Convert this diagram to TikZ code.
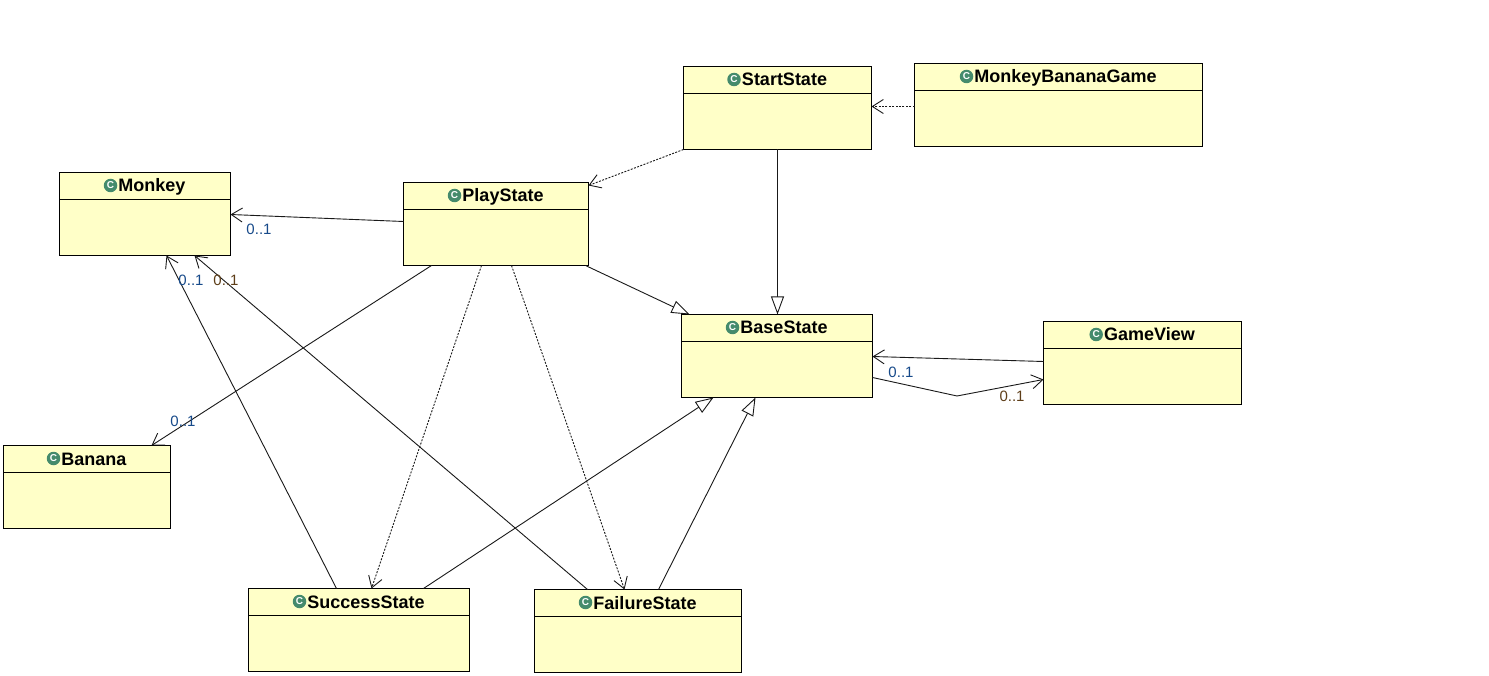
\documentclass[tikz,border=0pt]{standalone}
\usepackage{fontspec}
\setmainfont{Liberation Sans}
\usetikzlibrary{arrows.meta,calc,positioning}
\definecolor{classfill}{HTML}{FFFFC8}
\definecolor{iconfill}{HTML}{458B6C}
\definecolor{multblue}{HTML}{174A8A}
\definecolor{multbrown}{HTML}{5E3E18}
\tikzset{
  classbox/.style={draw=black, fill=classfill, line width=1.1pt, outer sep=0pt, inner sep=0pt},
  classtitle/.style={font=\fontsize{18}{18}\selectfont\bfseries, inner sep=0pt, outer sep=0pt, text height=12pt, text depth=4pt},
  classicon/.style={circle, fill=iconfill, minimum size=13.5pt, inner sep=0pt, text=white, font=\fontsize{10}{10}\selectfont\bfseries},
  assoc/.style={draw=black!90, line width=0.9pt, -{Straight Barb[length=11pt,width=14pt,line width=0.9pt]}},
  depend/.style={assoc, dash pattern=on 2pt off 1.4pt},
  extends/.style={draw=black!90, line width=0.9pt, -{Triangle[open,fill=white,length=18pt,width=13pt,line width=0.9pt]}},
  mult/.style={font=\fontsize{15}{15}\selectfont, inner sep=0pt, text=multblue},
  multb/.style={mult, text=multbrown}
}
% name, centre, width, title
\newcommand{\umlclass}[4]{
  \node [classbox, minimum width=#3pt, minimum height=83pt] (#1) at (#2) {};
  \draw [line width=1.1pt] ($(#1.north west)+(0,27)$) -- ($(#1.north east)+(0,27)$);
  \node [classtitle] (#1 title) at ($(#1.north)+(7,15.5)$) {#4};
  \node [classicon, left=1pt of #1 title, yshift=2.5pt] (#1 icon) {C};
}
\begin{document}
\begin{tikzpicture}[x=1pt, y=-1pt]
  \useasboundingbox (0,0) rectangle (1489,676);
  \fill [white] (0,0) rectangle (1489,676);

  \umlclass{start}{777.5,108}{188}{StartState}
  \umlclass{game}{1058.5,105}{288}{MonkeyBananaGame}
  \umlclass{monkey}{145,214}{171}{Monkey}
  \umlclass{play}{496,224}{185}{PlayState}
  \umlclass{base}{777,356}{191}{BaseState}
  \umlclass{view}{1142.5,363}{198}{GameView}
  \umlclass{banana}{87,487}{167}{Banana}
  \umlclass{success}{359,630}{221}{SuccessState}
  \umlclass{failure}{638,631}{207}{FailureState}

  % dependencies
  \draw [depend] ($(game.north west)+(0,43)$) -- ($(start.north east)+(0,40)$);
  \draw [depend] (start.south west) -- ($(play.north east)+(0,3)$);
  \draw [depend] ($(play.south west)+(78,0)$) -- ($(success.north west)+(123,0)$);
  \draw [depend] ($(play.south west)+(108,0)$) -- ($(failure.north west)+(90,0)$);

  % associations
  \draw [assoc] ($(play.north west)+(0,39)$) -- ($(monkey.north east)+(0,42)$);
  \draw [assoc] ($(play.south west)+(28,0)$) -- ($(banana.north west)+(148,0)$);
  \draw [assoc] ($(success.north west)+(88,0)$) -- ($(monkey.south west)+(107,0)$);
  \draw [assoc] ($(failure.north west)+(53,0)$) -- ($(monkey.south west)+(135,0)$);
  \draw [assoc] ($(view.north west)+(0,40)$) -- ($(base.north east)+(0,42)$);
  \draw [assoc] ($(base.north east)+(0,63)$) -- (957,396) -- ($(view.north west)+(0,58)$);

  % generalisations
  \draw [extends] (start.south) -- ($(base.north)+(0.5,0)$);
  \draw [extends] ($(play.south east)+(-3,0)$) -- ($(base.north west)+(8,0)$);
  \draw [extends] ($(success.north west)+(175,0)$) -- ($(base.south west)+(32,0)$);
  \draw [extends] ($(failure.north west)+(124,0)$) -- ($(base.south west)+(74,0)$);

  % multiplicities
  \node [mult] (mult monkey) at (259,229) {0..1};
  \node [mult] (mult banana) at (183,421) {0..1};
  \node [mult] (mult success) at (191,280) {0..1};
  \node [multb] (mult failure) at (226,280) {0..1};
  \node [mult] (mult base) at (901,372) {0..1};
  \node [multb] (mult view) at (1012,396) {0..1};
\end{tikzpicture}
\end{document}
